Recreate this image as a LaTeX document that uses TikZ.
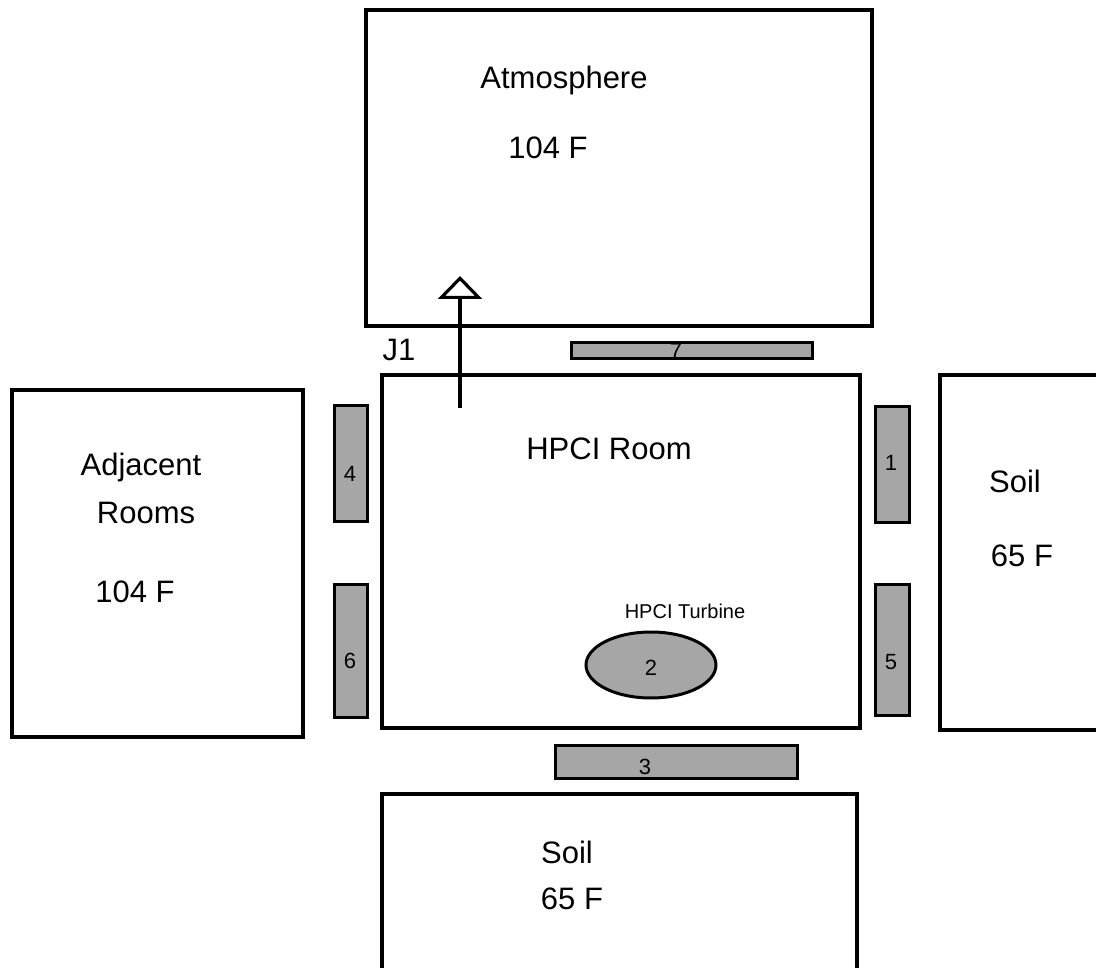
\documentclass[tikz,border=0pt]{standalone}
\usepackage{fontspec}
\setmainfont{Liberation Sans}
\usetikzlibrary{arrows.meta}
\begin{document}
\begin{tikzpicture}[x=1pt,y=-1pt,
  vol/.style={draw=black,line width=3.2pt,fill=white},
  hs/.style={draw=black,line width=3pt,fill=black!35},
  big/.style={font=\fontsize{31}{34}\selectfont,inner sep=0pt},
  small/.style={font=\fontsize{20}{22}\selectfont,inner sep=0pt},
  num/.style={font=\fontsize{22}{24}\selectfont,inner sep=0pt},
  flow/.style={line width=3.2pt,-{Triangle[open,length=23pt,width=44pt,line width=3.2pt]}}]
\useasboundingbox (0,0) rectangle (1096,968);
% volumes
\path[vol] (366,10) rectangle (872,326);
\path[vol] (382,375) rectangle (860,728);
\path[vol] (12,390) rectangle (303,737);
\path[vol] (940,375) rectangle (1115,730);
\path[vol] (382,794) rectangle (857,990);
% heat structures
\path[hs] (571,343) rectangle (812,359);
\path[hs] (334,406) rectangle (367,521);
\path[hs] (334,584) rectangle (367,717);
\path[hs] (875,407) rectangle (909,522);
\path[hs] (875,584) rectangle (909,715);
\path[hs] (555,745) rectangle (797,778);
\draw[hs] (651,665) ellipse [x radius=65, y radius=33];
\node[num] (h7) at (676,351) {7};
\node[num] (h4) at (350,474) {4};
\node[num] (h6) at (350,661) {6};
\node[num] (h1) at (891,463) {1};
\node[num] (h5) at (891,662) {5};
\node[num] (h3) at (645,767) {3};
\node[num] (h2) at (651,668) {2};
% labels
\node[big] (atm) at (564,80) {Atmosphere};
\node[big] (atmT) at (548,148) {104 F};
\node[big] (room) at (609,449) {HPCI Room};
\node[big] (adj1) at (141,467) {Adjacent};
\node[big] (adj2) at (146,513) {Rooms};
\node[big] (adjT) at (135,592) {104 F};
\node[big] (soilR) at (1015,481) {Soil};
\node[big] (soilRT) at (1022,556) {65 F};
\node[big] (soilB) at (567,852) {Soil};
\node[big] (soilBT) at (572,899) {65 F};
\node[small] (turb) at (685,611) {HPCI Turbine};
\node[big] (j1) at (399,350) {J1};
% junction J1
\coordinate (jstart) at (460,408);
\coordinate (jend) at (460,276);
\draw[flow] (jstart) -- (jend);
\end{tikzpicture}
\end{document}
